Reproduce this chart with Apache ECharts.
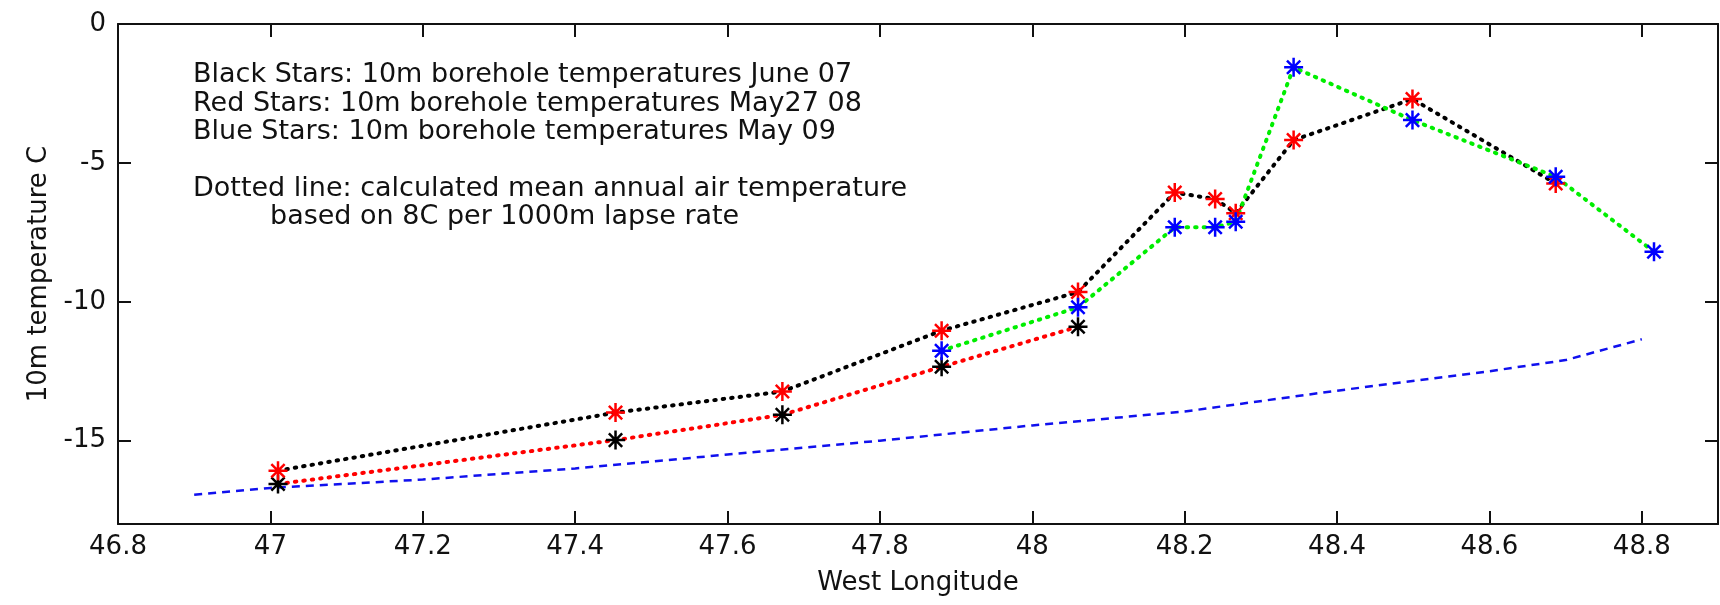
<!DOCTYPE html>
<html>
<head>
<meta charset="utf-8">
<script src="https://cdn.jsdelivr.net/npm/echarts@6/dist/echarts.min.js"></script>
<style>
html,body{margin:0;padding:0;background:#fff;}
#chart{width:1720px;height:605px;}
</style>
</head>
<body>
<div id="chart"></div>
<script>
// ---- data ----
const blackLon  = [47.01, 47.453, 47.672, 47.881, 48.06];
const blackTemp = [-16.56, -14.98, -14.07, -12.34, -10.9];

const redLon  = [47.01, 47.453, 47.672, 47.881, 48.06, 48.187, 48.24, 48.267, 48.343, 48.499, 48.687];
const redTemp = [-16.08, -13.99, -13.23, -11.04, -9.65, -6.07, -6.3, -6.81, -4.18, -2.7, -5.74];

const blueLon  = [47.881, 48.06, 48.187, 48.24, 48.267, 48.343, 48.499, 48.687, 48.816];
const blueTemp = [-11.76, -10.2, -7.32, -7.32, -7.12, -1.56, -3.46, -5.5, -8.2];

const maatLon  = [46.9, 47.0, 47.2, 47.4, 47.6, 47.8, 48.0, 48.2, 48.4, 48.6, 48.7, 48.8];
const maatTemp = [-16.95, -16.7, -16.4, -16.0, -15.5, -15.0, -14.45, -13.95, -13.2, -12.5, -12.1, -11.35];

const xTicks = [46.8, 47, 47.2, 47.4, 47.6, 47.8, 48, 48.2, 48.4, 48.6, 48.8];
const yTicks = [0, -5, -10, -15];

const noteLines = [
  'Black Stars: 10m borehole temperatures June 07',
  'Red Stars: 10m borehole temperatures May27 08',
  'Blue Stars: 10m borehole temperatures May 09',
  'Dotted line: calculated mean annual air temperature',
  'based on 8C per 1000m lapse rate'
];

// ---- chart ----
const FONT = 'DejaVu Sans';
const zip = (xs, ys) => xs.map((x, i) => [x, ys[i]]);
const star = 'path://M0,-10L0,10M-10,0L10,0M-7,-7L7,7M-7,7L7,-7';

const chart = echarts.init(document.getElementById('chart'), null, {renderer: 'canvas'});

const axisLine = {show: true, onZero: false, lineStyle: {color: '#111', width: 2}};
const tickStyle = {show: true, inside: true, length: 13, lineStyle: {color: '#111', width: 2}};

function starSeries(name, data, lineColor, markColor) {
  return {
    name: name, type: 'line', data: data,
    xAxisIndex: 0, yAxisIndex: 0,
    symbol: star, symbolSize: 19, showSymbol: true,
    lineStyle: {color: lineColor, width: 4, type: [1.5, 7], cap: 'round'},
    itemStyle: {color: markColor, borderColor: markColor, borderWidth: 2.5},
    emphasis: {disabled: true},
    animation: false, z: 3
  };
}

const notePos = [[193, 75], [193, 104], [193, 132], [193, 189], [270, 217]];

chart.setOption({
  animation: false,
  backgroundColor: '#fff',
  grid: {left: 118, top: 24, right: 2, bottom: 81, containLabel: false},
  xAxis: [{
    type: 'value', min: 46.8, max: 48.9, position: 'bottom',
    name: 'West Longitude', nameLocation: 'middle', nameGap: 46,
    nameTextStyle: {fontFamily: FONT, fontSize: 26, color: '#111'},
    axisLine: axisLine,
    axisTick: Object.assign({customValues: xTicks}, tickStyle),
    axisLabel: {customValues: xTicks, fontFamily: FONT, fontSize: 26, color: '#111', margin: 10,
      formatter: v => String(+v.toFixed(1))},
    splitLine: {show: false}
  }, {
    type: 'value', min: 46.8, max: 48.9, position: 'top',
    axisLine: axisLine,
    axisTick: Object.assign({customValues: xTicks}, tickStyle),
    axisLabel: {show: false}, splitLine: {show: false}
  }],
  yAxis: [{
    type: 'value', min: -18, max: 0, position: 'left',
    name: '10m temperature C', nameLocation: 'middle', nameGap: 62, nameRotate: 90,
    nameTextStyle: {fontFamily: FONT, fontSize: 26, color: '#111'},
    axisLine: axisLine,
    axisTick: Object.assign({customValues: yTicks}, tickStyle),
    axisLabel: {customValues: yTicks, fontFamily: FONT, fontSize: 26, color: '#111', margin: 12},
    splitLine: {show: false}
  }, {
    type: 'value', min: -18, max: 0, position: 'right',
    axisLine: axisLine,
    axisTick: Object.assign({customValues: yTicks}, tickStyle),
    axisLabel: {show: false}, splitLine: {show: false}
  }],
  series: [
    {
      name: 'MAAT', type: 'line', data: zip(maatLon, maatTemp),
      showSymbol: false, symbol: 'none',
      lineStyle: {color: '#1010ee', width: 2.5, type: [8, 6]},
      emphasis: {disabled: true}, z: 2
    },
    starSeries('June 07', zip(blackLon, blackTemp), '#ff0000', '#000000'),
    starSeries('May27 08', zip(redLon, redTemp), '#000000', '#ff0000'),
    starSeries('May 09', zip(blueLon, blueTemp), '#00ee00', '#0000ff')
  ],
  graphic: noteLines.map((t, i) => ({
    type: 'text', x: notePos[i][0], y: notePos[i][1], z: 10,
    style: {text: t, fontFamily: FONT, fontSize: 27, fill: '#111', verticalAlign: 'middle', align: 'left'}
  }))
});
</script>
</body>
</html>
